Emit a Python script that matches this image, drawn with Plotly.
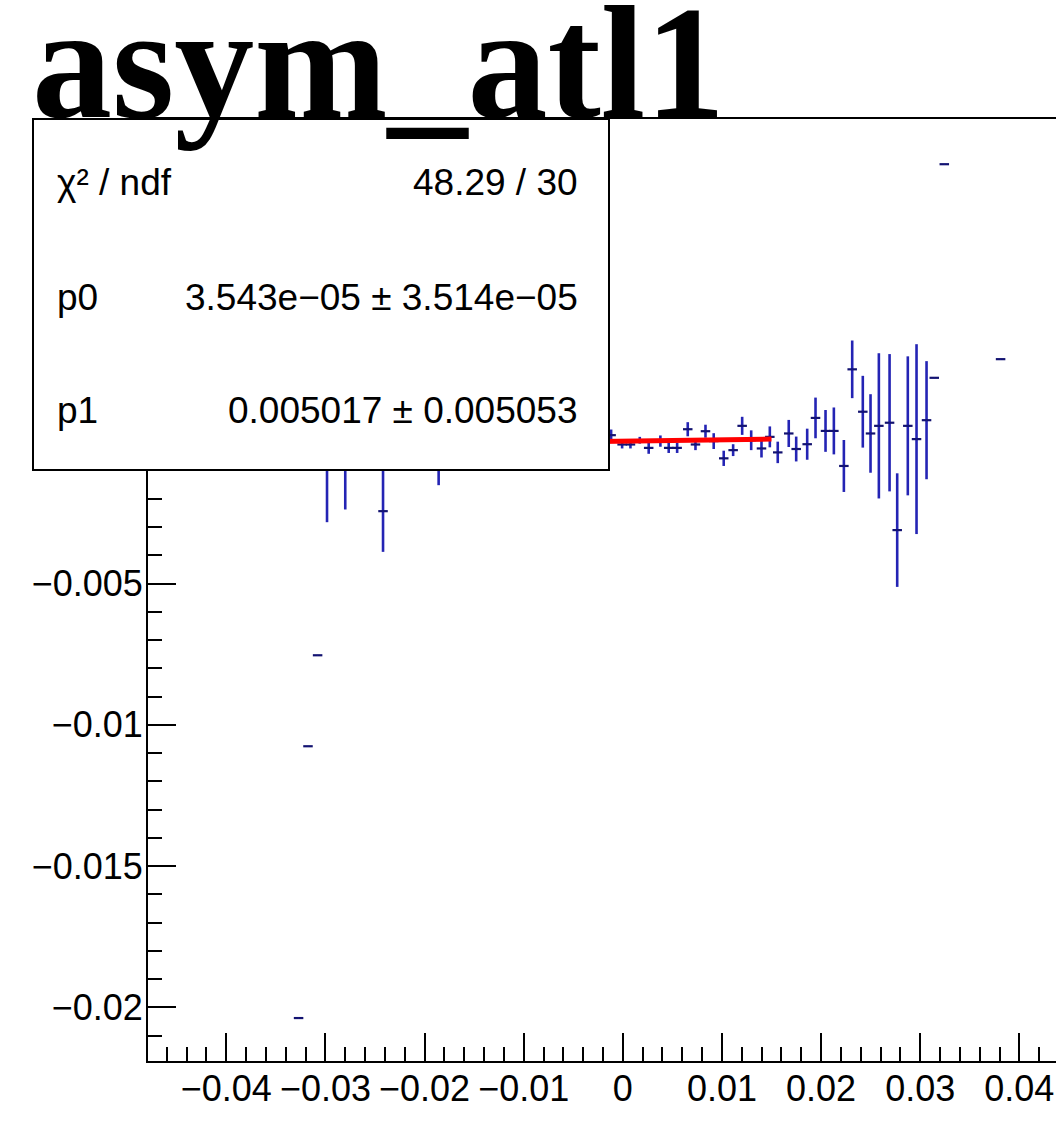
import plotly.graph_objects as go

# ---- data ----
x_vals = [-0.03271, -0.03176, -0.03079, -0.02984, -0.02800, -0.02419, -0.01858,
          -0.00118, -0.00007, 0.00077, 0.00171, 0.00261, 0.00379, 0.00463, 0.00548,
          0.00655, 0.00733, 0.00834, 0.00917, 0.01018, 0.01113, 0.01204, 0.01295,
          0.01399, 0.01483, 0.01563, 0.01674, 0.01749, 0.01860, 0.01944, 0.02045,
          0.02129, 0.02230, 0.02314, 0.02421, 0.02499, 0.02583, 0.02691, 0.02768,
          0.02875, 0.02963, 0.03064, 0.03142, 0.03243, 0.03811]
y_vals = [-0.02038, -0.01076, -0.00754, 0.00010, -0.00007, -0.00244, -0.00017,
          0.00025, -0.00008, -0.00008, 0.00007, -0.00020, 0.00004, -0.00020, -0.00020,
          0.00046, -0.00008, 0.00039, 0.00004, -0.00057, -0.00028, 0.00058, 0.00007,
          -0.00022, 0.00019, -0.00036, 0.00031, -0.00024, -0.00007, 0.00086, 0.00040,
          0.00040, -0.00084, 0.00258, 0.00108, 0.00031, 0.00058, 0.00069, -0.00311,
          0.00058, 0.00011, 0.00078, 0.00228, 0.00984, 0.00294]
y_errs = [0.0, 0.0, 0.0, 0.00293, 0.00231, 0.00144, 0.00135,
          0.00020, 0.00014, 0.00014, 0.00012, 0.00021, 0.00020, 0.00018, 0.00018,
          0.00025, 0.00020, 0.00023, 0.00028, 0.00027, 0.00021, 0.00032, 0.00035,
          0.00032, 0.00037, 0.00038, 0.00048, 0.00044, 0.00055, 0.00072, 0.00074,
          0.00083, 0.00092, 0.00102, 0.00127, 0.00139, 0.00257, 0.00243, 0.00201,
          0.00246, 0.00336, 0.00209, 0.0, 0.0, 0.0]
bin_half_width = 0.00048

fit_p0 = 3.543e-05
fit_p1 = 0.005017
fit_range = [-0.015, 0.015]

# y major ticks; the upper ones sit under the stats box, so their labels are blank
y_tickvals = [-0.02, -0.015, -0.01, -0.005, 0.0, 0.005, 0.01]
y_ticktext = ["−0.02", "−0.015", "−0.01", "−0.005", "", "", ""]

stats_labels = ["χ² / ndf", "p0", "p1"]
stats_values = ["48.29 / 30", "3.543e−05 ± 3.514e−05", "0.005017 ± 0.005053"]
title_text = "asym_atl1"

# ---- layout geometry (pixels) ----
W, H = 1056, 1128
L, R, T, B = 148, 0, 119, 67
pw, ph = W - L - R, H - T - B


def px_to_paper_x(p):
    return (p - L) / pw


def px_to_paper_y(p):
    return (H - B - p) / ph


fig = go.Figure()

fig.add_trace(go.Scatter(
    x=x_vals, y=y_vals, mode="markers",
    marker=dict(size=1, color="#1a1a90"),
    error_y=dict(type="data", array=y_errs, visible=True, color="#2424b4",
                 thickness=2.6, width=0),
    error_x=dict(type="data", array=[bin_half_width] * len(x_vals), visible=True,
                 color="#121270", thickness=2.2, width=0),
    showlegend=False, hoverinfo="skip",
))

fig.add_trace(go.Scatter(
    x=fit_range, y=[fit_p0 + fit_p1 * v for v in fit_range], mode="lines",
    line=dict(color="#ff0000", width=5), showlegend=False, hoverinfo="skip",
))

axis_font = dict(family="Liberation Sans, Arial, sans-serif", size=36, color="#000000")

fig.update_xaxes(
    range=[-0.0479, 0.0437], showgrid=False, zeroline=False,
    showline=True, linecolor="#000000", linewidth=2, mirror=True,
    ticks="inside", ticklen=28, tickwidth=1.5, tickcolor="#000000",
    tick0=0, dtick=0.01, tickfont=axis_font, ticklabelstandoff=-5,
    minor=dict(ticks="inside", ticklen=14, tickwidth=1.5, tickcolor="#000000",
               tick0=0, dtick=0.002),
)
fig.update_yaxes(
    range=[-0.0219, 0.01144], showgrid=False, zeroline=False,
    showline=True, linecolor="#000000", linewidth=2, mirror=False,
    ticks="inside", ticklen=28, tickwidth=1.5, tickcolor="#000000",
    tickmode="array", tickvals=y_tickvals, ticktext=y_ticktext,
    tickfont=axis_font, ticklabelstandoff=-4,
    minor=dict(ticks="inside", ticklen=14, tickwidth=1.5, tickcolor="#000000",
               tickmode="linear", tick0=0, dtick=0.001),
)

# stats box
fig.add_shape(type="rect", xref="paper", yref="paper",
              x0=px_to_paper_x(33), x1=px_to_paper_x(609),
              y0=px_to_paper_y(470), y1=px_to_paper_y(119),
              fillcolor="#ffffff", line=dict(color="#000000", width=2), layer="above")

stats_font = dict(family="Liberation Sans, Arial, sans-serif", size=37, color="#000000")
row_y = [182, 297, 410]
annotations = []
for lab, val, yy in zip(stats_labels, stats_values, row_y):
    annotations.append(dict(text=lab, xref="paper", yref="paper",
                            x=px_to_paper_x(55), y=px_to_paper_y(yy),
                            xanchor="left", yanchor="middle", showarrow=False,
                            font=stats_font))
    annotations.append(dict(text=val, xref="paper", yref="paper",
                            x=px_to_paper_x(580), y=px_to_paper_y(yy),
                            xanchor="right", yanchor="middle", showarrow=False,
                            font=stats_font))

annotations.append(dict(text="<b>" + title_text + "</b>", xref="paper", yref="paper",
                        x=px_to_paper_x(30), y=px_to_paper_y(63),
                        xanchor="left", yanchor="middle", showarrow=False,
                        font=dict(family="Liberation Serif, Times New Roman, serif",
                                  size=160, color="#000000")))

fig.update_layout(
    width=W, height=H,
    margin=dict(l=L, r=R, t=T, b=B, pad=0),
    paper_bgcolor="#ffffff", plot_bgcolor="#ffffff",
    annotations=annotations,
    showlegend=False,
)

fig.write_html("out.html",
               config={"displayModeBar": False},
               post_script="document.body.style.margin='0px';"
                           "document.body.style.overflow='hidden';")
